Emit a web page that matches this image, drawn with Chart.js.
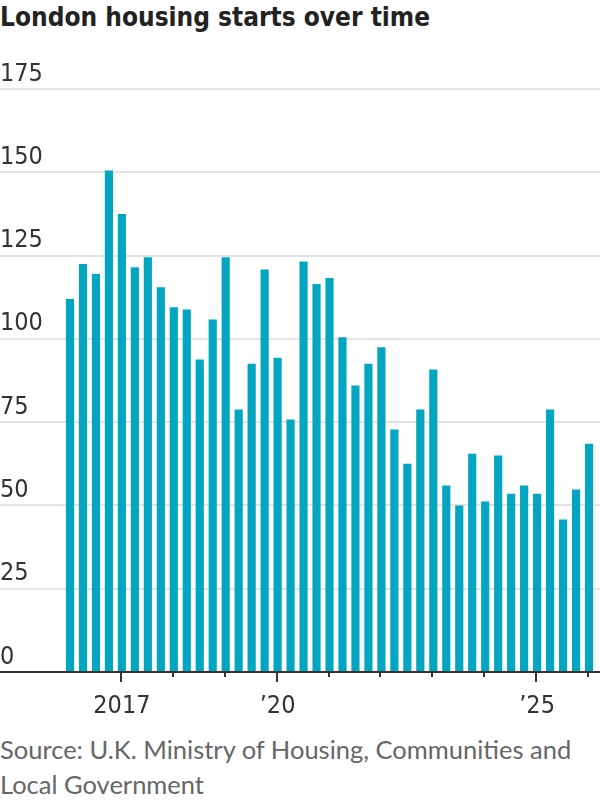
<!DOCTYPE html>
<html>
<head>
<meta charset="utf-8">
<script src="https://cdn.jsdelivr.net/npm/chart.js@4/dist/chart.umd.min.js"></script>
<style>
  html, body { margin: 0; padding: 0; background: #fff; }
  body { width: 600px; height: 800px; position: relative; overflow: hidden; }
  #title {
    position: absolute; left: 0; top: 2px;
    font: bold 26px 'Liberation Sans Narrow', 'DejaVu Sans Condensed', sans-serif;
    color: #222; white-space: nowrap;
  }
  #chart-wrap { position: absolute; left: 0; top: 0; width: 600px; height: 721px; }
  #source {
    position: absolute; left: 0; top: 732px; width: 600px;
    font: 25.5px 'Lato', 'Liberation Sans', sans-serif;
    line-height: 35px; color: #666;
  }
</style>
</head>
<body>
<div id="title">London housing starts over time</div>
<div id="chart-wrap"><canvas id="housing-chart"></canvas></div>
<div id="source">Source: U.K. Ministry of Housing, Communities and<br>Local Government</div>

<script>
// 季度类别
const quarters = [
    'Q1 2016', 'Q2 2016', 'Q3 2016', 'Q4 2016',
    'Q1 2017', 'Q2 2017', 'Q3 2017', 'Q4 2017',
    'Q1 2018', 'Q2 2018', 'Q3 2018', 'Q4 2018',
    'Q1 2019', 'Q2 2019', 'Q3 2019', 'Q4 2019',
    'Q1 2020', 'Q2 2020', 'Q3 2020', 'Q4 2020',
    'Q1 2021', 'Q2 2021', 'Q3 2021', 'Q4 2021',
    'Q1 2022', 'Q2 2022', 'Q3 2022', 'Q4 2022',
    'Q1 2023', 'Q2 2023', 'Q3 2023', 'Q4 2023',
    'Q1 2024', 'Q2 2024', 'Q3 2024', 'Q4 2024',
    'Q1 2025', 'Q2 2025', 'Q3 2025', 'Q4 2025',
    'Q1 2026'
];

// 开工数量（百户）
const starts = [
    112, 122.5, 119.5, 150.5,
    137.5, 121.5, 124.5, 115.5,
    109.5, 108.8, 93.8, 105.8,
    124.5, 78.8, 92.5, 120.8,
    94.3, 75.8, 123.2, 116.5,
    118.3, 100.5, 86, 92.5,
    97.5, 72.8, 62.5, 78.8,
    90.8, 56, 50, 65.5,
    51.2, 65, 53.5, 56,
    53.5, 78.8, 45.8, 54.8,
    68.5
];

// 刻度
const yTicks = [0, 25, 50, 75, 100, 125, 150, 175];
const tickQuarters = ['Q1 2017', 'Q1 2018', 'Q1 2019', 'Q1 2020', 'Q1 2021', 'Q1 2022',
                      'Q1 2023', 'Q1 2024', 'Q1 2025', 'Q1 2026'];
const labelQuarters = ['Q1 2017', 'Q1 2020', 'Q1 2025'];
const xTickLabels = ['2017', '\u201920', '\u201925'];

// 网格线、基线和刻度线，全宽绘制
const wsjAxes = {
    id: 'wsjAxes',
    beforeDatasetsDraw(chart) {
        const ctx = chart.ctx;
        const y = chart.scales.y;
        ctx.save();
        ctx.lineWidth = 2;
        ctx.strokeStyle = '#e3e3e3';
        yTicks.forEach(function(v) {
            if (v === 0) return;
            const py = Math.round(y.getPixelForValue(v));
            ctx.beginPath();
            ctx.moveTo(0, py);
            ctx.lineTo(chart.width, py);
            ctx.stroke();
        });
        ctx.restore();
    },
    afterDatasetsDraw(chart) {
        const ctx = chart.ctx;
        const x = chart.scales.x;
        const y = chart.scales.y;
        const base = Math.round(y.getPixelForValue(0));
        ctx.save();
        ctx.lineWidth = 2;
        ctx.strokeStyle = '#333';
        ctx.beginPath();
        ctx.moveTo(0, base);
        ctx.lineTo(chart.width, base);
        ctx.stroke();
        tickQuarters.forEach(function(q) {
            const px = Math.round(x.getPixelForValue(quarters.indexOf(q))) - 1;
            const len = labelQuarters.indexOf(q) >= 0 ? 9 : 4;
            ctx.beginPath();
            ctx.moveTo(px, base);
            ctx.lineTo(px, base + 1 + len);
            ctx.stroke();
        });
        ctx.restore();
    }
};

function createHousingChart() {
    const canvas = document.getElementById('housing-chart');
    new Chart(canvas, {
        type: 'bar',
        data: {
            labels: quarters,
            datasets: [{
                label: 'Housing starts',
                data: starts,
                backgroundColor: '#02a6c0',
                borderWidth: 0,
                categoryPercentage: 1,
                barPercentage: 0.63
            }]
        },
        options: {
            responsive: true,
            maintainAspectRatio: false,
            animation: false,
            layout: {
                padding: { top: 89, right: 4.5, left: 0, bottom: 0 }
            },
            plugins: {
                legend: { display: false },
                tooltip: { enabled: false }
            },
            scales: {
                x: {
                    grid: { display: false, drawTicks: true, tickLength: 19 },
                    border: { display: false },
                    ticks: {
                        autoSkip: false,
                        maxRotation: 0,
                        padding: 0,
                        color: '#333',
                        font: { family: "'Liberation Sans Narrow', 'DejaVu Sans Condensed', sans-serif", size: 25 },
                        callback: function(value, index) {
                            const i = labelQuarters.indexOf(quarters[index]);
                            return i >= 0 ? xTickLabels[i] : '';
                        }
                    }
                },
                y: {
                    min: 0,
                    max: 175,
                    afterFit: function(scale) { scale.width = 63.5; },
                    afterBuildTicks: function(scale) {
                        scale.ticks = yTicks.map(function(v) { return { value: v }; });
                    },
                    grid: { display: false, drawTicks: false },
                    border: { display: false },
                    ticks: {
                        crossAlign: 'far',
                        labelOffset: -15,
                        padding: 0,
                        color: '#333',
                        font: { family: "'Liberation Sans Narrow', 'DejaVu Sans Condensed', sans-serif", size: 25 }
                    }
                }
            }
        },
        plugins: [wsjAxes]
    });
}

document.addEventListener('DOMContentLoaded', createHousingChart);
</script>
</body>
</html>
